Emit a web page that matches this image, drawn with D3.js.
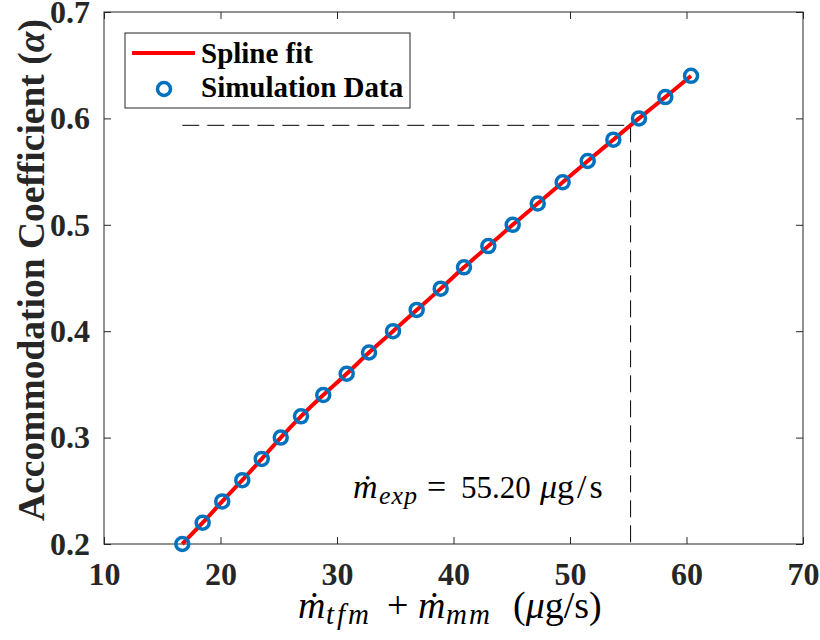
<!DOCTYPE html>
<html>
<head>
<meta charset="utf-8">
<script src="https://cdn.jsdelivr.net/npm/d3@7"></script>
<style>
  body { margin: 0; background: #fff; }
  svg { display: block; }
</style>
</head>
<body>
<svg id="chart" width="820" height="640"></svg>
<script>
// simulation data
var massFlow = [16.72, 18.47, 20.15, 21.87, 23.54, 25.17, 26.91, 28.82, 30.83, 32.75, 34.81, 36.84,
                38.90, 40.90, 42.99, 45.08, 47.23, 49.37, 51.52, 53.72, 55.92, 58.18, 60.39];
var alphaVals = [0.20, 0.22, 0.24, 0.26, 0.28, 0.30, 0.32, 0.34, 0.36, 0.38, 0.40, 0.42,
                 0.44, 0.46, 0.48, 0.50, 0.52, 0.54, 0.56, 0.58, 0.60, 0.62, 0.64];

// experimental point
var mExp = 55.20;
var alphaExp = 0.5935;

var xTicks = [10, 20, 30, 40, 50, 60, 70];
var yTicks = [0.2, 0.3, 0.4, 0.5, 0.6, 0.7];

var serif = "'Liberation Serif', 'Times New Roman', serif";

var svg = d3.select("#chart");

var plotL = 104, plotR = 803, plotT = 12, plotB = 544;

var x = d3.scaleLinear().domain([10, 70]).range([plotL, plotR]);
var y = d3.scaleLinear().domain([0.2, 0.7]).range([plotB, plotT]);

var data = massFlow.map(function(m, i) { return {m: m, a: alphaVals[i]}; });

// axes box
svg.append("rect")
    .attr("x", plotL).attr("y", plotT)
    .attr("width", plotR - plotL).attr("height", plotB - plotT)
    .attr("fill", "none").attr("stroke", "#262626").attr("stroke-width", 1);

function styleAxis(g, labels) {
  g.select(".domain").remove();
  g.selectAll(".tick line").attr("stroke", "#262626");
  if (!labels) { g.selectAll(".tick text").remove(); return; }
  g.selectAll(".tick text")
      .style("font-family", serif)
      .style("font-weight", "bold")
      .style("font-size", "32px")
      .attr("fill", "#262626");
}

svg.append("g")
    .attr("transform", "translate(0," + plotB + ")")
    .call(d3.axisBottom(x).tickValues(xTicks).tickSizeInner(-7).tickSizeOuter(0).tickPadding(18))
    .call(styleAxis, true);

svg.append("g")
    .attr("transform", "translate(0," + plotT + ")")
    .call(d3.axisTop(x).tickValues(xTicks).tickSizeInner(-7).tickSizeOuter(0))
    .call(styleAxis, false);

svg.append("g")
    .attr("transform", "translate(" + plotL + ",0)")
    .call(d3.axisLeft(y).tickValues(yTicks).tickFormat(d3.format(".1f")).tickSizeInner(-7).tickSizeOuter(0).tickPadding(14))
    .call(styleAxis, true);

svg.append("g")
    .attr("transform", "translate(" + plotR + ",0)")
    .call(d3.axisRight(y).tickValues(yTicks).tickSizeInner(-7).tickSizeOuter(0))
    .call(styleAxis, false);

// dashed guide lines
svg.append("line")
    .attr("x1", x(massFlow[0])).attr("x2", x(mExp))
    .attr("y1", y(alphaExp)).attr("y2", y(alphaExp))
    .attr("stroke", "#000").attr("stroke-width", 1).attr("stroke-dasharray", "17,8");

svg.append("line")
    .attr("x1", x(mExp)).attr("x2", x(mExp))
    .attr("y1", y(alphaExp)).attr("y2", y(0.2))
    .attr("stroke", "#000").attr("stroke-width", 1).attr("stroke-dasharray", "17,8");

// spline fit
var line = d3.line()
    .x(function(d) { return x(d.m); })
    .y(function(d) { return y(d.a); })
    .curve(d3.curveNatural);

svg.append("path")
    .datum(data)
    .attr("d", line)
    .attr("fill", "none")
    .attr("stroke", "#ff0000")
    .attr("stroke-width", 4);

// simulation markers
svg.append("g")
  .selectAll("circle")
  .data(data)
  .enter().append("circle")
    .attr("cx", function(d) { return x(d.m); })
    .attr("cy", function(d) { return y(d.a); })
    .attr("r", 6.5)
    .attr("fill", "none")
    .attr("stroke", "#0072bd")
    .attr("stroke-width", 3.5);

// annotation
var ann = svg.append("text")
    .attr("y", 498)
    .style("font-family", serif)
    .style("font-size", "34px")
    .attr("fill", "#000");
ann.append("tspan").attr("x", 353).attr("font-style", "italic").text("ṁ");
ann.append("tspan").attr("x", 379).attr("font-style", "italic").attr("font-size", 26)
    .attr("letter-spacing", 1).attr("dy", 6).text("exp");
ann.append("tspan").attr("x", 427).attr("dy", -6).text("=");
ann.append("tspan").attr("x", 461).attr("font-size", 31).text("55.20");
ann.append("tspan").attr("x", 540).attr("font-style", "italic").text("μ");
ann.append("tspan").attr("letter-spacing", 3).text("g/s");

// x label
var xl = svg.append("text")
    .attr("y", 618)
    .style("font-family", serif)
    .style("font-size", "38px")
    .attr("fill", "#000");
xl.append("tspan").attr("x", 298).attr("font-style", "italic").text("ṁ");
xl.append("tspan").attr("x", 326).attr("font-style", "italic").attr("font-size", 29)
    .attr("letter-spacing", 3).attr("dy", 6).text("tfm");
xl.append("tspan").attr("x", 387).attr("dy", -6).text("+");
xl.append("tspan").attr("x", 418).attr("font-style", "italic").text("ṁ");
xl.append("tspan").attr("x", 446).attr("font-style", "italic").attr("font-size", 29)
    .attr("letter-spacing", 2).attr("dy", 6).text("mm");
xl.append("tspan").attr("x", 513).attr("dy", -6).text("(");
xl.append("tspan").attr("font-style", "italic").text("μ");
xl.append("tspan").text("g/s)");

// y label
var yl = svg.append("text")
    .attr("transform", "translate(44," + ((plotT + plotB) / 2 - 8) + ") rotate(-90)")
    .attr("text-anchor", "middle")
    .style("font-family", serif)
    .style("font-weight", "bold")
    .style("font-size", "37.5px")
    .attr("fill", "#262626");
yl.append("tspan").text("Accommodation Coefficient (");
yl.append("tspan").attr("font-style", "italic").text("α");
yl.append("tspan").text(")");

// legend
var lg = svg.append("g");
lg.append("rect")
    .attr("x", 125).attr("y", 33).attr("width", 285).attr("height", 75)
    .attr("fill", "#fff").attr("stroke", "#262626").attr("stroke-width", 1);
lg.append("line")
    .attr("x1", 132).attr("x2", 195).attr("y1", 53).attr("y2", 53)
    .attr("stroke", "#ff0000").attr("stroke-width", 4);
lg.append("circle")
    .attr("cx", 164).attr("cy", 89).attr("r", 6.5)
    .attr("fill", "none").attr("stroke", "#0072bd").attr("stroke-width", 3.5);
lg.selectAll("text.lab")
  .data(["Spline fit", "Simulation Data"])
  .enter().append("text")
    .attr("class", "lab")
    .attr("x", 201)
    .attr("y", function(d, i) { return 63 + i * 34; })
    .style("font-family", serif)
    .style("font-weight", "bold")
    .style("font-size", "29px")
    .attr("fill", "#000")
    .text(function(d) { return d; });
</script>
</body>
</html>
